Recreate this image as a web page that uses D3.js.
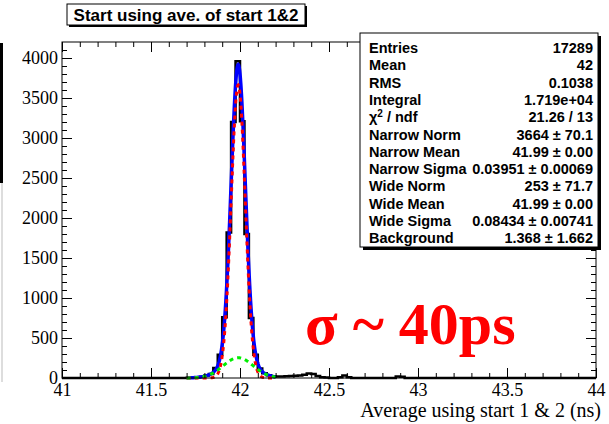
<!DOCTYPE html>
<html>
<head>
<meta charset="utf-8">
<script src="https://cdn.jsdelivr.net/npm/d3@7"></script>
<style>
  html, body { margin: 0; padding: 0; background: #fff; }
  svg { display: block; }
</style>
</head>
<body>
<script>
// ---------------- DATA ----------------
const xTickLabels = [41, 41.5, 42, 42.5, 43, 43.5, 44];
const yTickLabels = [0, 500, 1000, 1500, 2000, 2500, 3000, 3500, 4000];
const binWidth = 0.025;
// low edges of non-empty bins and their counts (all other bins are empty)
const binLowEdges = [41.700, 41.725, 41.750, 41.775, 41.800, 41.825, 41.850, 41.875, 41.900, 41.925,
                     41.950, 41.975, 42.000, 42.025, 42.050, 42.075, 42.100, 42.125, 42.150, 42.175,
                     42.200, 42.225, 42.250, 42.275, 42.300, 42.325, 42.350, 42.375, 42.400, 42.425,
                     42.450, 42.475, 42.550, 42.575, 42.600, 42.875, 42.900];
const binCounts   = [2, 4, 8, 15, 30, 50, 125, 290, 760, 1820,
                     3200, 3960, 3210, 1800, 750, 290, 118, 60, 35, 22,
                     18, 20, 22, 25, 28, 30, 40, 55, 50, 25,
                     10, 5, 8, 32, 8, 18, 15];
// fit parameters: [norm, mean, sigma]
const narrowGaus = [3664, 41.99, 0.03951];
const wideGaus   = [253, 41.99, 0.08434];
const background = 1.368;
const fitRange = [41.7, 42.2];

const statLabels = ["Entries", "Mean", "RMS", "Integral", "χ2 / ndf", "Narrow Norm", "Narrow Mean",
                    "Narrow Sigma", "Wide Norm", "Wide Mean", "Wide Sigma", "Background"];
const statValues = ["17289", "42", "0.1038", "1.719e+04", "21.26 / 13", "3664 ± 70.1", "41.99 ± 0.00",
                    "0.03951 ± 0.00069", "253 ± 71.7", "41.99 ± 0.00", "0.08434 ± 0.00741", "1.368 ± 1.662"];

const titleText = "Start using ave. of start 1&2";
const xAxisTitle = "Average using start 1 & 2 (ns)";
const annotation = "σ ~ 40ps";

// ---------------- LAYOUT ----------------
const W = 609, H = 424;
const L = 62, R = 596, T = 42, B = 378;

const svg = d3.select("body").append("svg").attr("width", W).attr("height", H);
svg.append("rect").attr("width", W).attr("height", H).attr("fill", "#fff");

const x = d3.scaleLinear().domain([41, 44]).range([L, R]);
const y = d3.scaleLinear().domain([0, 4200]).range([B, T]);

// left edge black bar (artifact of original)
svg.append("rect").attr("x", 0).attr("y", 43).attr("width", 3).attr("height", 140).attr("fill", "#000");
svg.append("line").attr("x1", 2).attr("x2", 2).attr("y1", 183).attr("y2", 382)
  .attr("stroke", "#bbb").attr("stroke-width", 1);

// ---------------- HISTOGRAM ----------------
const counts = new Map();
binLowEdges.forEach((e, i) => counts.set(Math.round(e / binWidth), binCounts[i]));
const nBins = Math.round(3 / binWidth);
let p = `M${x(41)},${y(0)}`;
for (let i = 0; i < nBins; i++) {
  const lo = 41 + i * binWidth, hi = lo + binWidth;
  const c = counts.get(Math.round(lo / binWidth)) || 0;
  p += `L${x(lo)},${y(c)}L${x(hi)},${y(c)}`;
}
p += `L${x(44)},${y(0)}`;

const plot = svg.append("g");
plot.append("path").attr("d", p).attr("fill", "none").attr("stroke", "#000").attr("stroke-width", 2.5)
  .attr("stroke-linejoin", "miter");

// ---------------- FIT CURVES ----------------
const gaus = (par, v) => par[0] * Math.exp(-0.5 * Math.pow((v - par[1]) / par[2], 2));
const xs = d3.range(fitRange[0], fitRange[1] + 1e-9, 0.002);
const line = d3.line().x(d => x(d[0])).y(d => y(d[1]));

plot.append("path")
  .attr("d", line(xs.map(v => [v, gaus(narrowGaus, v) + gaus(wideGaus, v) + background])))
  .attr("fill", "none").attr("stroke", "#0000ff").attr("stroke-width", 3.5);
plot.append("path")
  .attr("d", line(xs.map(v => [v, gaus(narrowGaus, v)])))
  .attr("fill", "none").attr("stroke", "#ff0000").attr("stroke-width", 3)
  .attr("stroke-dasharray", "4,4");
plot.append("path")
  .attr("d", line(xs.map(v => [v, gaus(wideGaus, v)])))
  .attr("fill", "none").attr("stroke", "#00ee00").attr("stroke-width", 3)
  .attr("stroke-dasharray", "4,4");

// ---------------- FRAME & AXES ----------------
svg.append("rect").attr("x", L).attr("y", T).attr("width", R - L).attr("height", B - T)
  .attr("fill", "none").attr("stroke", "#000").attr("stroke-width", 1);

const xMinor = d3.range(41, 44.0001, 0.1).filter(v => Math.abs(v * 2 - Math.round(v * 2)) > 1e-6);
const yMinor = d3.range(0, 4200, 100).filter(v => v % 500 !== 0);

const tickFont = "'Liberation Serif', 'Times New Roman', serif";

// bottom
svg.append("g").attr("transform", `translate(0,${B})`)
  .call(d3.axisBottom(x).tickValues(xTickLabels).tickSize(-10).tickPadding(5).tickFormat(d3.format("")));
svg.append("g").attr("transform", `translate(0,${B})`)
  .call(d3.axisBottom(x).tickValues(xMinor).tickSize(-5).tickFormat(""));
// top
svg.append("g").attr("transform", `translate(0,${T})`)
  .call(d3.axisTop(x).tickValues(xTickLabels).tickSize(-10).tickFormat(""));
svg.append("g").attr("transform", `translate(0,${T})`)
  .call(d3.axisTop(x).tickValues(xMinor).tickSize(-5).tickFormat(""));
// left
svg.append("g").attr("transform", `translate(${L},0)`)
  .call(d3.axisLeft(y).tickValues(yTickLabels).tickSize(-10).tickPadding(4).tickFormat(d3.format("")));
svg.append("g").attr("transform", `translate(${L},0)`)
  .call(d3.axisLeft(y).tickValues(yMinor).tickSize(-5).tickFormat(""));
// right
svg.append("g").attr("transform", `translate(${R},0)`)
  .call(d3.axisRight(y).tickValues(yTickLabels).tickSize(-10).tickFormat(""));
svg.append("g").attr("transform", `translate(${R},0)`)
  .call(d3.axisRight(y).tickValues(yMinor).tickSize(-5).tickFormat(""));

svg.selectAll(".domain").remove();
svg.selectAll(".tick line").attr("stroke", "#000").attr("stroke-width", 1);
svg.selectAll(".tick text").attr("fill", "#000").style("font-family", tickFont).style("font-size", "18px");

svg.append("text").attr("x", 601).attr("y", 417).attr("text-anchor", "end")
  .style("font-family", tickFont).style("font-size", "20px").text(xAxisTitle);

// ---------------- ANNOTATION ----------------
svg.append("text").attr("x", 305).attr("y", 344)
  .style("font-family", tickFont).style("font-size", "60px").style("font-weight", "bold")
  .attr("fill", "#ff0000").text(annotation);

// ---------------- TITLE BOX ----------------
const tb = { x: 67, y: 4, w: 238, h: 21 };
svg.append("rect").attr("x", tb.x + 2).attr("y", tb.y + 2).attr("width", tb.w).attr("height", tb.h).attr("fill", "#000");
svg.append("rect").attr("x", tb.x).attr("y", tb.y).attr("width", tb.w).attr("height", tb.h)
  .attr("fill", "#fff").attr("stroke", "#000").attr("stroke-width", 1);
svg.append("text").attr("x", tb.x + tb.w / 2).attr("y", tb.y + 16.5).attr("text-anchor", "middle")
  .style("font-family", "'Liberation Sans', Arial, sans-serif").style("font-weight", "bold")
  .style("font-size", "17px").text(titleText);

// ---------------- STATS BOX ----------------
const sb = { x: 360, y: 33, w: 238, h: 214 };
svg.append("rect").attr("x", sb.x + 3).attr("y", sb.y + 3).attr("width", sb.w).attr("height", sb.h).attr("fill", "#000");
svg.append("rect").attr("x", sb.x).attr("y", sb.y).attr("width", sb.w).attr("height", sb.h)
  .attr("fill", "#fff").attr("stroke", "#000").attr("stroke-width", 1);
const sFont = "'Liberation Sans', Arial, sans-serif";
const sSize = "14.5px";
const rowY = i => 48 + i * 17.3 + 5;
statLabels.forEach((lab, i) => {
  const t = svg.append("text").attr("x", 369).attr("y", rowY(i))
    .style("font-family", sFont).style("font-weight", "bold").style("font-size", sSize);
  if (lab.startsWith("χ2")) {
    t.append("tspan").text("χ");
    t.append("tspan").attr("dy", -5).style("font-size", "10px").text("2");
    t.append("tspan").attr("dy", 5).text(" / ndf");
  } else {
    t.text(lab);
  }
  svg.append("text").attr("x", 593).attr("y", rowY(i)).attr("text-anchor", "end")
    .style("font-family", sFont).style("font-weight", "bold").style("font-size", sSize)
    .text(statValues[i]);
});
</script>
</body>
</html>
